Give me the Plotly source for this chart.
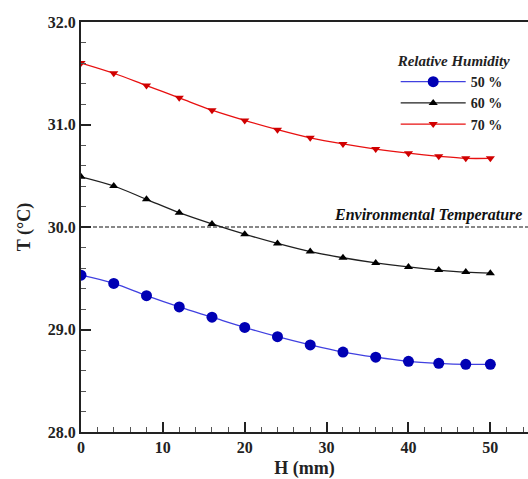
import plotly.graph_objects as go

# ---- data ----
H_mm = [0, 4, 8, 12, 16, 20, 24, 28, 32, 36, 40, 43.7, 47, 50]
T_rh50 = [29.53, 29.45, 29.33, 29.22, 29.12, 29.02, 28.93, 28.85, 28.78, 28.73, 28.69, 28.67, 28.66, 28.66]
T_rh60 = [30.49, 30.40, 30.27, 30.14, 30.03, 29.93, 29.84, 29.76, 29.70, 29.65, 29.61, 29.58, 29.56, 29.55]
T_rh70 = [31.60, 31.50, 31.38, 31.26, 31.14, 31.04, 30.95, 30.87, 30.81, 30.76, 30.72, 30.69, 30.67, 30.67]
series_names = ["50 %", "60 %", "70 %"]
ENV_T = 30.0
ENV_LABEL = "Environmental Temperature"
LEGEND_TITLE = "Relative Humidity"

SERIF = "Liberation Serif, Times New Roman, serif"

fig = go.Figure()
styles = [
    dict(line=dict(color="#4040e0", width=1.3, shape="spline"),
         marker=dict(symbol="circle", size=11, color="#0000b4")),
    dict(line=dict(color="#202020", width=1.3, shape="spline"),
         marker=dict(symbol="triangle-up", size=8, color="#000000")),
    dict(line=dict(color="#e81010", width=1.3, shape="spline"),
         marker=dict(symbol="triangle-down", size=8, color="#d00000")),
]
for ys, name, st in zip([T_rh50, T_rh60, T_rh70], series_names, styles):
    fig.add_trace(go.Scatter(x=H_mm, y=ys, name=name, mode="lines+markers", **st))

fig.add_hline(y=ENV_T, line=dict(color="#111", width=1.2, dash="4px,2px"), layer="below")
fig.add_annotation(x=1, xref="paper", y=ENV_T, yref="y", text=f"<b><i>{ENV_LABEL}</i></b>",
                   showarrow=False, xanchor="right", yanchor="bottom", xshift=-4, yshift=1,
                   font=dict(family=SERIF, size=16, color="#111"))

axis_common = dict(
    showline=True, linecolor="#222", linewidth=2,
    ticks="inside", ticklen=10, tickwidth=2, tickcolor="#222",
    showgrid=False, zeroline=False,
    tickfont=dict(family=SERIF, size=16, color="#222", weight="bold"),
)
fig.update_xaxes(range=[0, 54.6], dtick=10, tick0=0, mirror=True,
                 minor=dict(ticks="inside", dtick=2, ticklen=5, tickwidth=1, tickcolor="#555"),
                 title=dict(text="<b>H (mm)</b>", font=dict(family=SERIF, size=18, color="#222"), standoff=6),
                 **axis_common)
fig.update_yaxes(range=[28, 32], dtick=1, tick0=28, tickformat=".1f", mirror=False,
                 minor=dict(ticks="inside", dtick=0.2, ticklen=5, tickwidth=1, tickcolor="#555"),
                 title=dict(text="<b>T (°C)</b>", font=dict(family=SERIF, size=18, color="#222"), standoff=12),
                 **axis_common)

fig.update_layout(
    width=528, height=479,
    margin=dict(l=81, r=0, t=22, b=47),
    paper_bgcolor="white", plot_bgcolor="white",
    legend=dict(
        title=dict(text=f"<b><i>{LEGEND_TITLE}</i></b>", font=dict(family=SERIF, size=15, color="#222")),
        font=dict(family=SERIF, size=14, color="#222", weight="bold"),
        x=0.968, xanchor="right", y=0.94, yanchor="top",
        itemwidth=65, bgcolor="rgba(0,0,0,0)", tracegroupgap=0,
    ),
)

fig.write_html("out.html")
